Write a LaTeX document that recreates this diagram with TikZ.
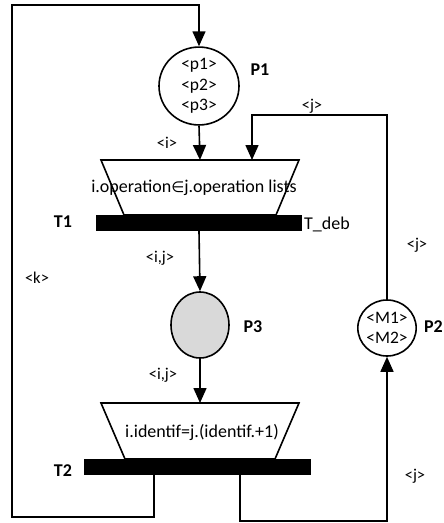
\documentclass[tikz,border=0pt]{standalone}
\usepackage{fontspec}
\setmainfont{Carlito}
\newfontfamily\symf{DejaVu Sans}
\usetikzlibrary{arrows.meta,shapes.geometric}
\definecolor{placegray}{RGB}{217,217,217}
\tikzset{
  ln/.style={line width=1.6pt},
  arr/.style={ln,-{Triangle[length=15pt,width=13pt]}},
  place/.style={ellipse,draw,line width=1.6pt,inner sep=0pt,align=center,font=\fontsize{17.5}{20.5}\selectfont},
  bar/.style={rectangle,fill=black,inner sep=0pt},
  lbl/.style={font=\fontsize{16.5}{18}\selectfont,inner sep=0pt},
  bold/.style={font=\fontsize{18}{20}\selectfont\bfseries,inner sep=0pt},
  guard/.style={font=\fontsize{18}{20}\selectfont,inner sep=0pt}
}
\begin{document}
\begin{tikzpicture}[x=1pt,y=-1pt]
\useasboundingbox (0,0) rectangle (444,523);
% places
\node[place,minimum width=80pt,minimum height=76pt] (P1) at (199,86) {<p1>\\<p2>\\<p3>};
\node[place,fill=placegray,minimum width=58pt,minimum height=66pt] (P3) at (200,325) {};
\node[place,minimum width=56pt,minimum height=56pt] (P2) at (387,328) {<M1>\\<M2>};
% guards
\coordinate (g1a) at (101,160); \coordinate (g1b) at (299,160);
\coordinate (g1c) at (276,215); \coordinate (g1d) at (124,215);
\coordinate (g1n) at (200,160); \coordinate (g1j) at (252,160);
\draw[ln] (g1a) -- (g1b) -- (g1c) -- (g1d) -- cycle;
\coordinate (g2a) at (101,403); \coordinate (g2b) at (299,403);
\coordinate (g2c) at (275,459); \coordinate (g2d) at (125,459);
\coordinate (g2n) at (200,403);
\draw[ln] (g2a) -- (g2b) -- (g2c) -- (g2d) -- cycle;
\node[guard] (G1) at (194,188) {i.operation{\symf\fontsize{15}{18}\selectfont ∈}j.operation lists};
\node[guard] (G2) at (202,432) {i.identif=j.(identif.+1)};
% transitions
\node[bar,minimum width=206pt,minimum height=16pt] (T1) at (199,223) {};
\node[bar,minimum width=227pt,minimum height=16pt] (T2) at (197.5,467) {};
% corner coordinates
\coordinate (kl) at (12,517);
\coordinate (kt) at (12,5);
\coordinate (jb) at (387,521);
\coordinate (jt) at (252,115);
% arcs
\draw[arr] ([xshift=-43.5pt]T2.south) |- (kl) -- (kt) -| (P1.north);
\draw[arr] (P1.south) -- (g1n);
\draw[arr] (P2.north) |- (jt) -- (g1j);
\draw[arr] (T1.south) -- (P3.north);
\draw[arr] (P3.south) -- (g2n);
\draw[arr] ([xshift=42.5pt]T2.south) |- (jb) -- (P2.south);
% labels
\node[bold] (lP1) at (260,70) {P1};
\node[bold] (lP3) at (253,327) {P3};
\node[bold,anchor=east] (lP2) at (443,327) {P2};
\node[bold] (lT1) at (63,222) {T1};
\node[bold] (lT2) at (63,471) {T2};
\node[guard,anchor=west] (ldeb) at (304,224) {T\_deb};
\node[lbl] (li) at (167,143) {<i>};
\node[lbl] (lj1) at (312,106) {<j>};
\node[lbl] (lj2) at (417,245) {<j>};
\node[lbl] (lij1) at (160,258) {<i,j>};
\node[lbl] (lk) at (37,278) {<k>};
\node[lbl] (lij2) at (163,375) {<i,j>};
\node[lbl] (lj3) at (415,476) {<j>};
\end{tikzpicture}
\end{document}
